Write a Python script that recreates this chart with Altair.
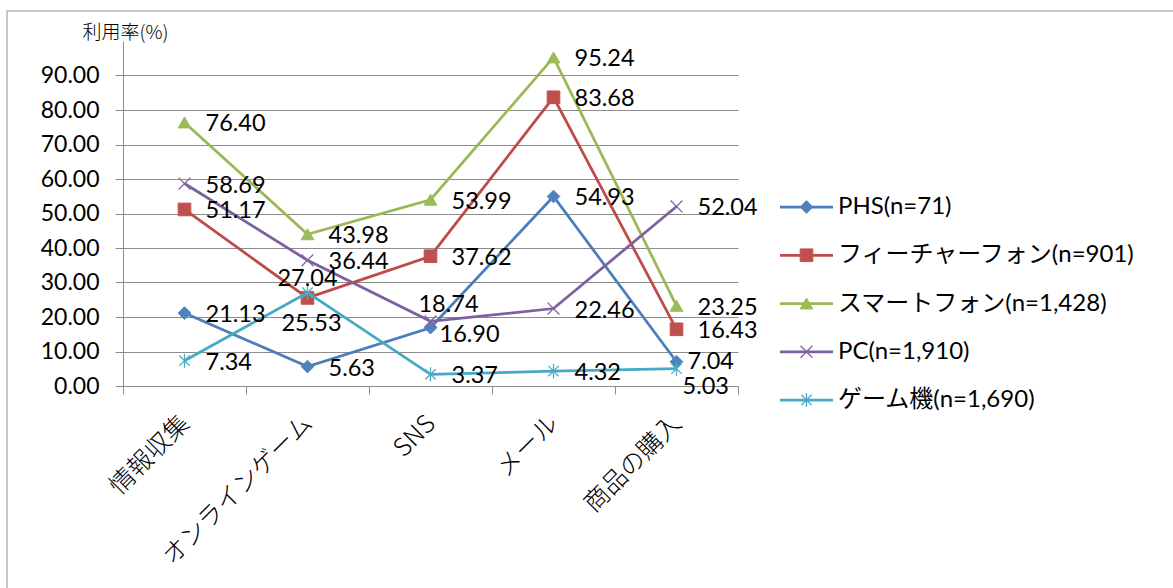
import altair as alt
import pandas as pd

# ---- data ----
categories = ["情報収集", "オンラインゲーム", "SNS", "メール", "商品の購入"]
series_names = ["PHS", "フィーチャーフォン", "スマートフォン", "PC", "ゲーム機"]
legend_labels = ["PHS(n=71)", "フィーチャーフォン(n=901)", "スマートフォン(n=1,428)",
                 "PC(n=1,910)", "ゲーム機(n=1,690)"]
phs = [21.13, 5.63, 16.90, 54.93, 7.04]
feature = [51.17, 25.53, 37.62, 83.68, 16.43]
smart = [76.40, 43.98, 53.99, 95.24, 23.25]
pc = [58.69, 36.44, 18.74, 22.46, 52.04]
game = [7.34, 27.04, 3.37, 4.32, 5.03]
y_ticks = [0, 10, 20, 30, 40, 50, 60, 70, 80, 90]
y_title = "利用率(%)"

series_values = [phs, feature, smart, pc, game]
rows = []
for s, vals in zip(series_names, series_values):
    for c, v in zip(categories, vals):
        rows.append({"series": s, "category": c, "value": v})
df = pd.DataFrame(rows)

# ---- styles ----
line_colors = ["#4A7EBB", "#BE4B48", "#98B954", "#7D60A0", "#46AAC5"]
marker_colors = ["#4F81BD", "#C0504D", "#9BBB59", "#8064A2", "#4BACC6"]
X_PATH = "M-1,-1L1,1M-1,1L1,-1"
STAR_PATH = "M-0.85,-0.85L0.85,0.85M-0.85,0.85L0.85,-0.85M0,-1.15L0,1.15"
shapes = ["diamond", "square", "triangle-up", X_PATH, STAR_PATH]
sizes = [160, 160, 160, 140, 150]
marker_sw = [1, 1, 1, 1.3, 1.3]
GRID = "#8c8c8c"
NUM_FONT = "Lato"
JP_FONT = "Noto Sans CJK JP"
MIX_FONT = "Lato, 'Noto Sans CJK JP'"

W, H = 615, 345
PAD = {"left": 123, "top": 41, "right": 435, "bottom": 202}

X = alt.X(
    "category:N",
    sort=categories,
    scale=alt.Scale(type="band", domain=categories, paddingInner=0, paddingOuter=0),
    axis=alt.Axis(
        title=None, grid=False, tickBand="extent", tickSize=8,
        tickColor=GRID, domainColor=GRID, labelAngle=-45, labelAlign="right",
        labelBaseline="middle", labelPadding=25, labelFont=JP_FONT,
        labelFontSize=25, labelFontWeight=300, labelLimit=500, labelColor="black",
    ),
)
Y = alt.Y(
    "value:Q",
    scale=alt.Scale(domain=[0, 100], nice=False),
    axis=alt.Axis(
        values=y_ticks, format=".2f", tickSize=8, tickColor=GRID, domainColor=GRID,
        gridColor=GRID, labelPadding=16, labelFont=NUM_FONT, labelFontSize=23,
        labelColor="black", title=y_title, titleAngle=0, titleX=-41, titleY=-9,
        titleAlign="left", titleBaseline="middle", titleFont=JP_FONT,
        titleFontSize=19, titleFontWeight=300, titleColor="black",
    ),
)

layers = []
for i, s in enumerate(series_names):
    d = df[df["series"] == s]
    base = alt.Chart(d).encode(x=X, y=Y)
    layers.append(base.mark_line(color=line_colors[i], strokeWidth=2.75))
    layers.append(
        base.mark_point(
            shape=shapes[i], filled=True, fill=marker_colors[i],
            stroke=marker_colors[i], strokeWidth=marker_sw[i], size=sizes[i], opacity=1,
        )
    )

# data labels: default to the right of the point, a few placed elsewhere
label_default = {"align": "left", "dx": 21, "dy": 2}
label_special = {
    ("ゲーム機", "オンラインゲーム"): {"align": "center", "dx": 0, "dy": -14},
    ("フィーチャーフォン", "オンラインゲーム"): {"align": "center", "dx": 4, "dy": 26},
    ("PC", "SNS"): {"align": "center", "dx": 18, "dy": -16},
    ("PHS", "SNS"): {"align": "left", "dx": 9, "dy": 7},
    ("ゲーム機", "商品の購入"): {"align": "left", "dx": 6, "dy": 18},
    ("PHS", "商品の購入"): {"align": "left", "dx": 11, "dy": 0},
}
special_mask = df.apply(lambda r: (r["series"], r["category"]) in label_special, axis=1)
label_sets = [(df[~special_mask], label_default)]
for key, opts in label_special.items():
    label_sets.append((df[(df["series"] == key[0]) & (df["category"] == key[1])], opts))
for d, opts in label_sets:
    layers.append(
        alt.Chart(d).mark_text(
            baseline="middle", font=NUM_FONT, fontSize=23.5, color="black", **opts
        ).encode(x=X, y=Y, text=alt.Text("value:Q", format=".2f"))
    )

data_layer = alt.layer(*layers)

# ---- legend (rows placed by a point scale on series) ----
leg_df = pd.DataFrame({"series": series_names, "label": legend_labels})
leg_y = alt.Y(
    "series:N", sort=series_names,
    scale=alt.Scale(type="point", domain=series_names, range=[166, 359], padding=0),
    axis=None,
)
leg_layers = []
for i, s in enumerate(series_names):
    d = leg_df[leg_df["series"] == s]
    leg_layers.append(
        alt.Chart(d).mark_rule(color=line_colors[i], strokeWidth=2.75).encode(
            x=alt.value(657), x2=alt.value(710), y=leg_y
        )
    )
    leg_layers.append(
        alt.Chart(d).mark_point(
            shape=shapes[i], filled=True, fill=marker_colors[i],
            stroke=marker_colors[i], strokeWidth=marker_sw[i], size=sizes[i], opacity=1,
        ).encode(x=alt.value(683.5), y=leg_y)
    )
leg_layers.append(
    alt.Chart(leg_df).mark_text(
        align="left", baseline="middle", font=MIX_FONT, fontSize=24, color="black"
    ).encode(x=alt.value(715), y=leg_y, text="label:N")
)
legend_layer = alt.layer(*leg_layers)

frame = alt.Chart(pd.DataFrame({"k": [0]})).mark_rect(
    fillOpacity=0, stroke="#b4b4b4", strokeWidth=1.5
).encode(x=alt.value(-116), x2=alt.value(1070), y=alt.value(-30), y2=alt.value(570))

chart = (
    alt.layer(frame, data_layer, legend_layer)
    .resolve_scale(y="independent")
    .properties(
        width=W, height=H,
        autosize=alt.AutoSizeParams(type="none"),
        padding=PAD,
        background="white",
    )
    .configure_view(strokeWidth=0)
)

chart.save("out.html", embed_options={"renderer": "svg", "actions": False})
